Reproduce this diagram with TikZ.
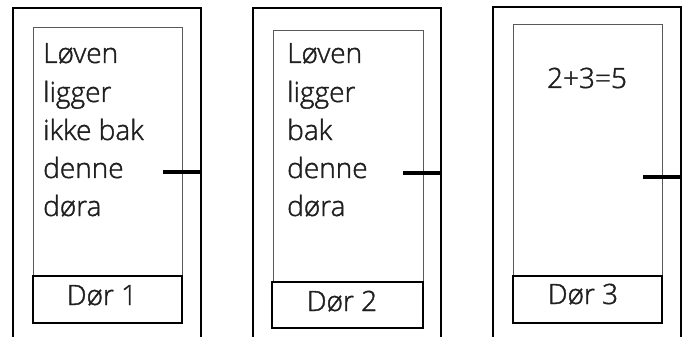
\documentclass[tikz,border=0pt]{standalone}
\usepackage{fontspec}
\setmainfont{Open Sans Light}[UprightFeatures={FakeBold=1.5}]
\begin{document}
\begin{tikzpicture}[x=1pt,y=-1pt,
  frame/.style={line width=2pt,black},
  panel/.style={line width=0.9pt,draw=black!65},
  namebox/.style={line width=2pt,draw=black},
  handle/.style={line width=4.5pt,black},
  word/.style={anchor=base west,inner sep=0pt,text=black!88,font=\fontsize{28}{30}\selectfont},
  label/.style={anchor=base,inner sep=0pt,text=black!88,font=\fontsize{28}{30}\selectfont}]
\useasboundingbox (0,0) rectangle (689,337);

% ---- door 1 ----
\draw[frame] (13,337) -- (13,8) -- (201,8) -- (201,337);
\draw[panel] (33,276) -- (33,27) -- (182,27) -- (182,276);
\draw[namebox] (33,276) rectangle (182,323);
\coordinate (h1a) at (163,172);
\coordinate (h1b) at (201,172);
\draw[handle] (h1a) -- (h1b);
\node[word] (a1) at (43,63) {Løven};
\node[word] (a2) at (43,102) {ligger};
\node[word] (a3) at (43,140) {ikke bak};
\node[word] (a4) at (43,178) {denne};
\node[word] (a5) at (43,216) {døra};
\node[label] (n1) at (102,305) {Dør 1};

% ---- door 2 ----
\draw[frame] (253,337) -- (253,8) -- (441,8) -- (441,337);
\draw[panel] (273,282) -- (273,30) -- (423,30) -- (423,282);
\draw[namebox] (272,282) rectangle (423,328);
\coordinate (h2a) at (403,173);
\coordinate (h2b) at (441,173);
\draw[handle] (h2a) -- (h2b);
\node[word] (b1) at (287,63) {Løven};
\node[word] (b2) at (287,102) {ligger};
\node[word] (b3) at (287,140) {bak};
\node[word] (b4) at (287,178) {denne};
\node[word] (b5) at (287,216) {døra};
\node[label] (n2) at (342,311) {Dør 2};

% ---- door 3 ----
\draw[frame] (493,337) -- (493,7) -- (681,7) -- (681,337);
\draw[panel] (513,276) -- (513,24) -- (662,24) -- (662,276);
\draw[namebox] (513,276) rectangle (662,323);
\coordinate (h3a) at (643,177);
\coordinate (h3b) at (681,177);
\draw[handle] (h3a) -- (h3b);
\node[label] (c1) at (587,88) {2+3=5};
\node[label] (n3) at (583,304) {Dør 3};
\end{tikzpicture}
\end{document}
